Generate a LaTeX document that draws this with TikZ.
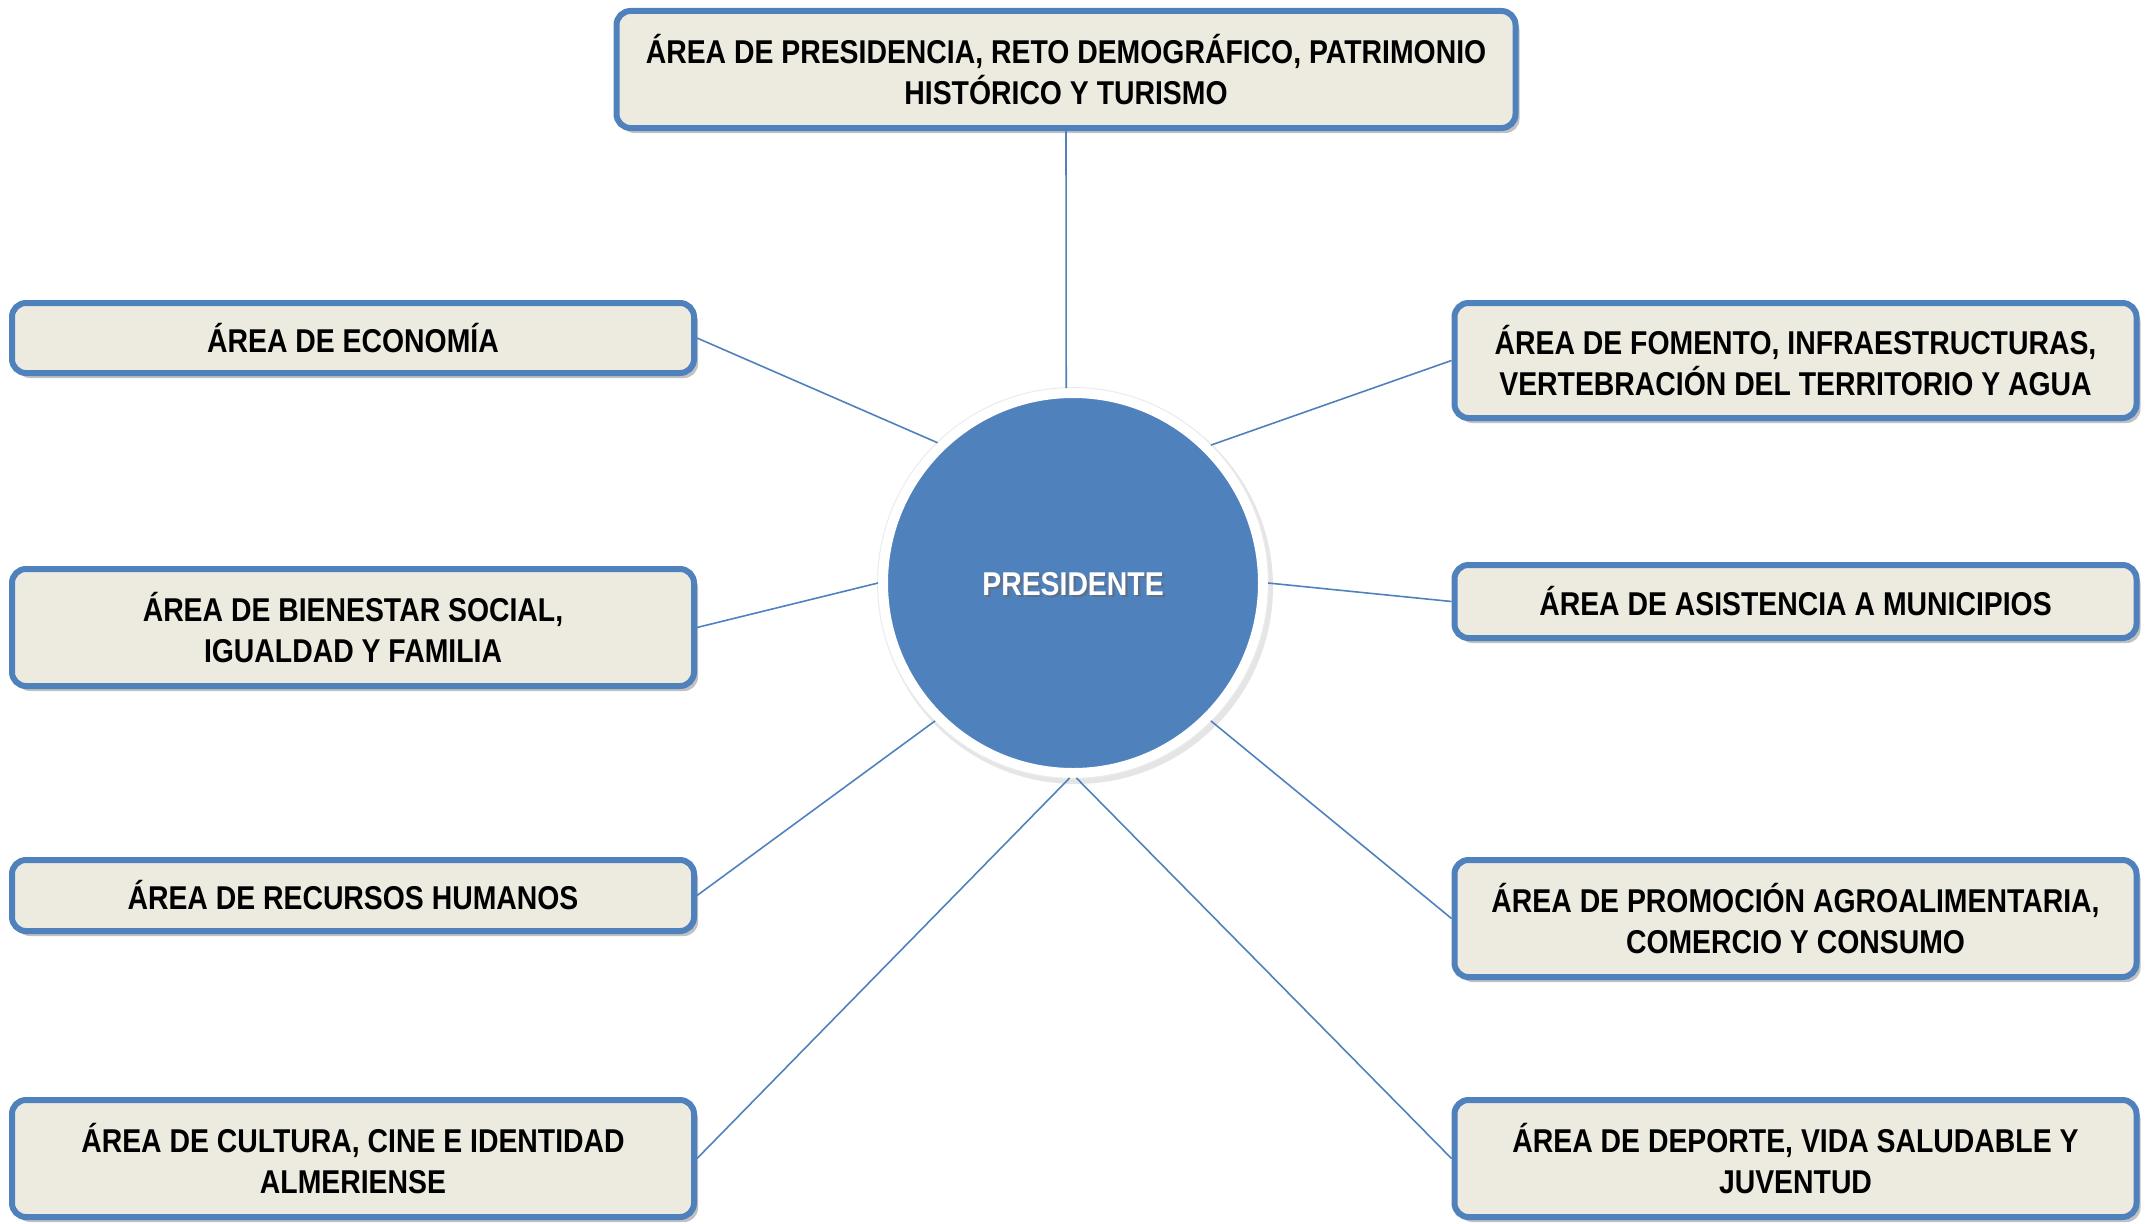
\documentclass[tikz,border=0pt]{standalone}
\usepackage{fontspec}
\newfontfamily\boxfont{Liberation Sans}[FakeStretch=0.86]
\usetikzlibrary{shadows}
\definecolor{boxfill}{HTML}{EDEBE0}
\definecolor{boxline}{HTML}{4F81BD}
\definecolor{circfill}{HTML}{4F81BD}
\tikzset{
  area/.style={draw=boxline, fill=boxfill, line width=6pt, rounded corners=14pt,
    minimum width=682pt, inner sep=0pt, align=center, text=black,
    font=\boxfont\bfseries\fontsize{33}{41}\selectfont,
    drop shadow={shadow xshift=4pt, shadow yshift=-5pt, opacity=0.35, fill=black!70}},
  conn/.style={draw=boxline, line width=1.6pt},
}
\begin{document}
\begin{tikzpicture}[x=1pt,y=1pt]
\useasboundingbox (0,0) rectangle (2151,-1223);
% central circle
\fill[black!20, opacity=0.5] (1076,-587) circle (197pt);
\node[circle, fill=circfill, draw=white, line width=10pt, outer sep=5pt, minimum size=380pt,
  inner sep=0pt] (P) at (1073,-583) {};
\draw[black!8, line width=1pt] (P.center) circle (195.5pt);
\node[text=black!60, opacity=0.6, font=\boxfont\bfseries\fontsize{33}{41}\selectfont] at (1075.5,-586.5) {PRESIDENTE};
\node[text=white, font=\boxfont\bfseries\fontsize{33}{41}\selectfont] (Pt) at (1073,-584) {PRESIDENTE};
% boxes
\node[area, minimum width=899pt, minimum height=117pt] (top) at (1066,-69.5)
  {ÁREA DE PRESIDENCIA, RETO DEMOGRÁFICO, PATRIMONIO\\HISTÓRICO Y TURISMO};
\node[area, minimum height=70pt] (eco) at (353,-338) {ÁREA DE ECONOMÍA};
\node[area, minimum height=117pt] (bien) at (353,-627.5) {ÁREA DE BIENESTAR SOCIAL,\\IGUALDAD Y FAMILIA};
\node[area, minimum height=71pt] (rrhh) at (353,-895.5) {ÁREA DE RECURSOS HUMANOS};
\node[area, minimum height=117pt] (cult) at (353,-1158.5) {ÁREA DE CULTURA, CINE E IDENTIDAD\\ALMERIENSE};
\node[area, minimum height=115pt] (fom) at (1795.5,-360.5) {ÁREA DE FOMENTO, INFRAESTRUCTURAS,\\VERTEBRACIÓN DEL TERRITORIO Y AGUA};
\node[area, minimum height=73pt] (asis) at (1795.5,-601.5) {ÁREA DE ASISTENCIA A MUNICIPIOS};
\node[area, minimum height=117pt] (prom) at (1795.5,-918.5) {ÁREA DE PROMOCIÓN AGROALIMENTARIA,\\COMERCIO Y CONSUMO};
\node[area, minimum height=117pt] (dep) at (1795.5,-1158.5) {ÁREA DE DEPORTE, VIDA SALUDABLE Y\\JUVENTUD};
% connectors
\draw[conn] (top.south) -- (P.92);
\draw[conn] (eco.east) -- (P.134);
\draw[conn] (fom.west) -- (P.45);
\draw[conn] (bien.east) -- (P.180);
\draw[conn] (asis.west) -- (P.0);
\draw[conn] (rrhh.east) -- (P.225);
\draw[conn] (prom.west) -- (P.315);
\draw[conn] (cult.east) -- (P.269);
\draw[conn] (dep.west) -- (P.271);
\end{tikzpicture}
\end{document}
